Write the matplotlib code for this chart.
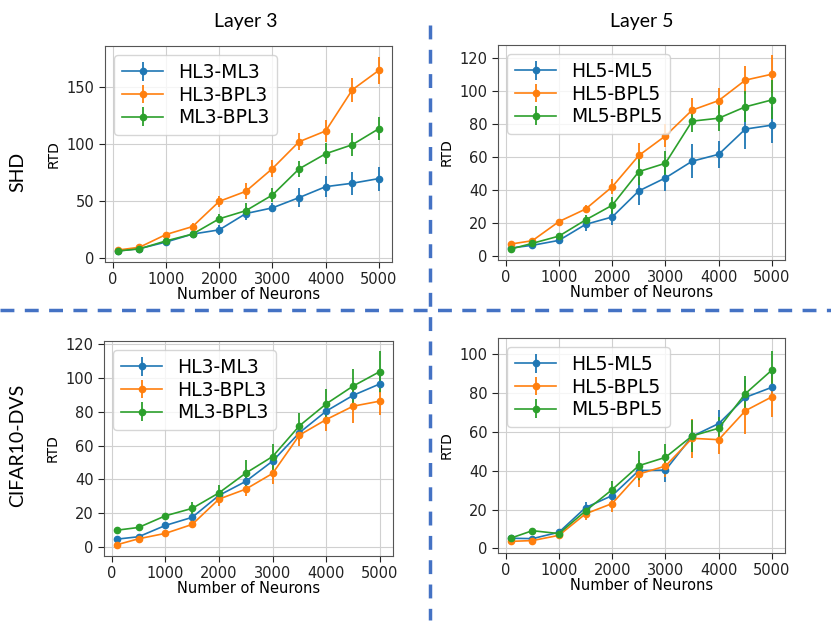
import numpy as np
import matplotlib.pyplot as plt

neurons = [100, 500, 1000, 1500, 2000, 2500, 3000, 3500, 4000, 4500, 5000]

# SHD, layer 3
shd3_hl_ml = [6.2, 8.2, 14, 21, 24.7, 39, 44, 53, 62.6, 65.6, 69.7]
shd3_hl_ml_err = [1, 1, 1.5, 2, 4.5, 5.5, 4, 8, 9, 10, 10.5]
shd3_hl_bpl = [7, 9.4, 20.6, 27.6, 49.7, 58.5, 78.5, 102, 111.5, 147.6, 164.7]
shd3_hl_bpl_err = [1.5, 1.5, 1.5, 3, 5, 7, 7.8, 7.5, 9.5, 10.7, 12]
shd3_ml_bpl = [6.2, 8, 15, 21, 34.4, 41.5, 55.3, 78.2, 91.5, 99.4, 113.5]
shd3_ml_bpl_err = [1, 1, 1, 2, 4, 6.5, 6, 7, 9, 10, 10]

# SHD, layer 5
shd5_hl_ml = [4.9, 6.5, 9.5, 19.2, 23.7, 39.5, 47.4, 57.5, 61.7, 77, 79.4]
shd5_hl_ml_err = [1, 1, 1.5, 4, 5, 8.3, 8, 10.3, 8.3, 12, 11]
shd5_hl_bpl = [7.3, 9.3, 20.9, 28.5, 42, 61, 72.9, 88.5, 94.3, 106.7, 110.3]
shd5_hl_bpl_err = [1, 1, 1, 2.5, 4.5, 7.5, 7, 7.4, 7.4, 8.6, 11.4]
shd5_ml_bpl = [4.3, 7.7, 12.1, 21.9, 30.8, 51.2, 56.3, 81.8, 83.6, 90.5, 94.7]
shd5_ml_bpl_err = [1, 1, 1.5, 3, 5, 8, 7.3, 6.3, 7.8, 9.3, 11.8]

# CIFAR10-DVS, layer 3
cif3_hl_ml = [4.7, 6.1, 12.8, 17.6, 30.6, 38.9, 50.9, 67.7, 80.5, 89.8, 96.6]
cif3_hl_ml_err = [1, 1, 1, 2, 2.5, 3, 4, 5, 5, 5, 5.5]
cif3_hl_bpl = [1.4, 4.9, 8.1, 13.4, 28.4, 34.3, 43.6, 66.3, 75.5, 83.4, 86.4]
cif3_hl_bpl_err = [1.5, 1.5, 1.5, 1.5, 4, 4.2, 6, 6.4, 7, 9.7, 8]
cif3_ml_bpl = [10, 11.6, 18.5, 22.9, 32.1, 43.8, 53.6, 71.8, 84.8, 95.3, 103.9]
cif3_ml_bpl_err = [1.5, 1.5, 1.5, 3.5, 4.5, 8, 7.7, 7.5, 9, 10, 12]

# CIFAR10-DVS, layer 5
cif5_hl_ml = [5.2, 5, 8.3, 21, 27.2, 40.1, 40.3, 57.7, 64.3, 77.8, 83]
cif5_hl_ml_err = [1, 1, 1, 3, 4, 5.5, 6, 8, 7, 9, 7]
cif5_hl_bpl = [3.6, 4, 6.7, 17.8, 23.1, 38.3, 42.4, 56.7, 56, 70.9, 78.1]
cif5_hl_bpl_err = [1, 1, 1, 3, 4.5, 6.5, 5.5, 10, 7.5, 12, 10.5]
cif5_ml_bpl = [5.3, 9.1, 7.6, 19.3, 30.3, 42.6, 46.9, 57.9, 61.9, 79.7, 91.9]
cif5_ml_bpl_err = [1, 1, 1, 3, 4.5, 7.5, 7, 8, 6, 9, 10]

labels3 = ['HL3-ML3', 'HL3-BPL3', 'ML3-BPL3']
labels5 = ['HL5-ML5', 'HL5-BPL5', 'ML5-BPL5']

W, H = 831, 631
fig = plt.figure(figsize=(W / 100, H / 100), dpi=100)


def rect(x0, y0, x1, y1):
    return [x0 / W, 1 - y1 / H, (x1 - x0) / W, (y1 - y0) / H]


panels = [
    (rect(105, 46, 392, 262), labels3,
     [(shd3_hl_ml, shd3_hl_ml_err), (shd3_hl_bpl, shd3_hl_bpl_err), (shd3_ml_bpl, shd3_ml_bpl_err)],
     (-3.5, 186), [0, 50, 100, 150]),
    (rect(498, 45, 785, 260), labels5,
     [(shd5_hl_ml, shd5_hl_ml_err), (shd5_hl_bpl, shd5_hl_bpl_err), (shd5_ml_bpl, shd5_ml_bpl_err)],
     (-2.4, 128), [0, 20, 40, 60, 80, 100, 120]),
    (rect(104, 341, 393, 556), labels3,
     [(cif3_hl_ml, cif3_hl_ml_err), (cif3_hl_bpl, cif3_hl_bpl_err), (cif3_ml_bpl, cif3_ml_bpl_err)],
     (-5.3, 122), [0, 20, 40, 60, 80, 100, 120]),
    (rect(498, 338, 785, 553), labels5,
     [(cif5_hl_ml, cif5_hl_ml_err), (cif5_hl_bpl, cif5_hl_bpl_err), (cif5_ml_bpl, cif5_ml_bpl_err)],
     (-2.4, 108.4), [0, 20, 40, 60, 80, 100]),
]

colors = ['#1f77b4', '#ff7f0e', '#2ca02c']

for r, labs, series, ylim, yt in panels:
    ax = fig.add_axes(r)
    for (y, e), lab, c in zip(series, labs, colors):
        ax.errorbar(neurons, y, yerr=e, color=c, marker='o', ms=4.5, lw=1.2,
                    elinewidth=1.3, label=lab)
    ax.set_xlim(-145, 5245)
    ax.set_ylim(*ylim)
    ax.set_xticks([0, 1000, 2000, 3000, 4000, 5000])
    ax.set_yticks(yt)
    ax.tick_params(labelsize=10.5, colors='#222222', length=4)
    ax.grid(True, color='#d0d0d0', lw=0.8)
    for s in ax.spines.values():
        s.set_color('#555555')
    ax.set_xlabel('Number of Neurons', fontsize=10.5, labelpad=0)
    ax.set_ylabel('RTD', fontsize=10)
    ax.legend(loc='upper left', fontsize=13.5, handlelength=2.2, borderpad=0.4,
              labelspacing=0.2, framealpha=0.8)

# headers
fig.text(246 / W, 1 - 21 / H, 'Layer 3', ha='center', va='center', fontsize=14, family='Lato')
fig.text(642 / W, 1 - 21 / H, 'Layer 5', ha='center', va='center', fontsize=14, family='Lato')
fig.text(18 / W, 1 - 172 / H, 'SHD', ha='center', va='center', rotation=90, fontsize=14, family='Lato')
fig.text(18 / W, 1 - 445 / H, 'CIFAR10-DVS', ha='center', va='center', rotation=90, fontsize=14, family='Lato')

# dashed separators
fig.add_artist(plt.Line2D([430 / W, 430 / W], [1 - 25 / H, 1 - 620 / H], color='#4472C4',
                          lw=2.5, ls=(0, (4, 3))))
fig.add_artist(plt.Line2D([0, 1], [1 - 310 / H, 1 - 310 / H], color='#4472C4',
                          lw=2.5, ls=(0, (4, 3))))

fig.savefig('out.png', dpi=100)
